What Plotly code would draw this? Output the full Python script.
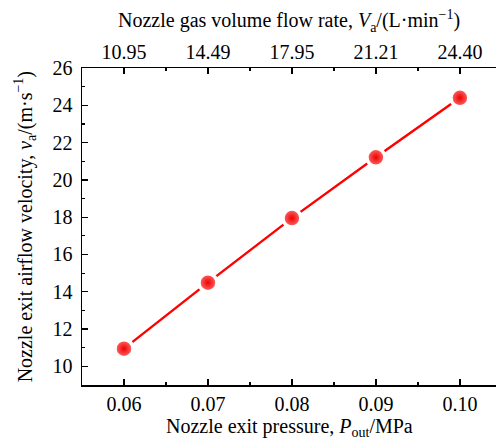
import plotly.graph_objects as go

pressure = [0.06, 0.07, 0.08, 0.09, 0.10]
velocity = [10.95, 14.49, 17.95, 21.21, 24.40]
flow_labels = ["10.95", "14.49", "17.95", "21.21", "24.40"]
minor_pressure = [0.065, 0.075, 0.085, 0.095]

FONT = "Times New Roman, Liberation Serif, serif"
FS = 20

fig = go.Figure()
fig.add_trace(go.Scatter(
    x=pressure, y=velocity, mode="lines",
    line=dict(color="#ff0000", width=2.4), showlegend=False, hoverinfo="skip"))
fig.add_trace(go.Scatter(
    x=pressure, y=velocity, mode="markers",
    marker=dict(size=18, color="#ff7070",
                gradient=dict(type="radial", color="#ee0000"),
                line=dict(color="white", width=3.5)),
    showlegend=False))
fig.add_trace(go.Scatter(
    x=pressure, y=velocity, mode="markers",
    marker=dict(size=1, opacity=0), xaxis="x2", showlegend=False, hoverinfo="skip"))

axis_common = dict(
    showline=True, linecolor="black", linewidth=1.5, mirror=False,
    ticks="inside", ticklen=6, tickwidth=1.3, tickcolor="black",
    showgrid=False, zeroline=False,
    tickfont=dict(family=FONT, size=FS, color="black"),
)
minor_x = dict(ticks="inside", ticklen=3, tickwidth=1.2, tickcolor="black",
               tickmode="array", tickvals=minor_pressure, showgrid=False)

title_font = dict(family=FONT, size=FS, color="black")

fig.update_layout(
    width=496, height=443,
    margin=dict(l=82, r=0, t=68, b=58, autoexpand=False),
    paper_bgcolor="white", plot_bgcolor="white",
    font=dict(family=FONT, size=FS, color="black"),
    xaxis=dict(
        **axis_common,
        range=[0.055, 0.1043], tickvals=pressure, ticktext=["0.06", "0.07", "0.08", "0.09", "0.10"],
        minor=minor_x,
    ),
    xaxis2=dict(
        **axis_common,
        overlaying="x", side="top", anchor="y",
        range=[0.055, 0.1043], tickvals=pressure, ticktext=flow_labels,
        minor=minor_x,
    ),
    yaxis=dict(
        **axis_common,
        range=[9, 26], tickvals=[10, 12, 14, 16, 18, 20, 22, 24, 26],
        ticklabelstandoff=4,
        minor=dict(ticks="inside", ticklen=3, tickwidth=1.2, tickcolor="black", dtick=1, tick0=9, showgrid=False),
    ),
    annotations=[
        dict(text="Nozzle exit pressure, <i>P</i><sub>out</sub>/MPa", xref="paper", yref="paper",
             x=0.5, y=-0.135, xanchor="center", yanchor="middle", showarrow=False, font=title_font),
        dict(text="Nozzle gas volume flow rate, <i>V</i><sub>a</sub>/(L·min<sup>−1</sup>)", xref="paper", yref="paper",
             x=0.5, y=1.148, xanchor="center", yanchor="middle", showarrow=False, font=title_font),
        dict(text="Nozzle exit airflow velocity, <i>v</i><sub>a</sub>/(m·s<sup>−1</sup>)", xref="paper", yref="paper",
             x=-0.138, y=0.5, xanchor="center", yanchor="middle", textangle=-90, showarrow=False, font=title_font),
    ],
)

fig.write_html("out.html", config={"staticPlot": True})
